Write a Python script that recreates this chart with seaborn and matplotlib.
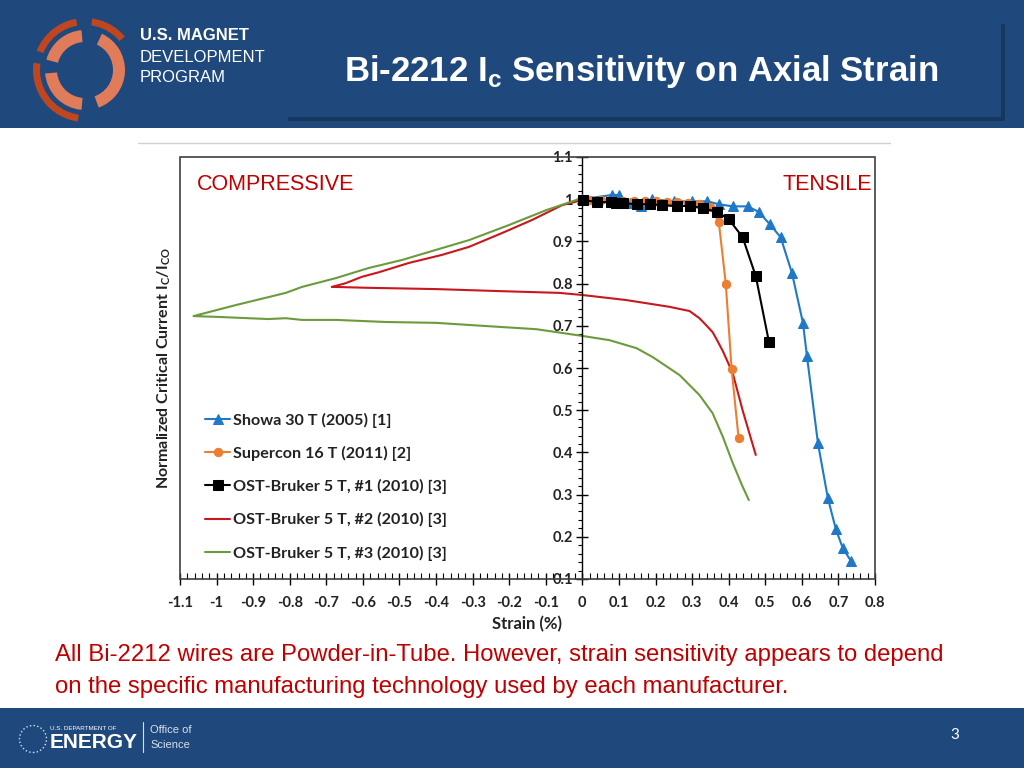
import numpy as np
import pandas as pd
import matplotlib
matplotlib.use("Agg")
import matplotlib.pyplot as plt
import seaborn as sns
from matplotlib.patches import Rectangle, Wedge
from matplotlib.ticker import MultipleLocator, FixedLocator

# ---------------- data ----------------
showa_x = [0, 0.08, 0.10, 0.13, 0.16, 0.19, 0.25, 0.30, 0.342, 0.373, 0.411, 0.452, 0.482,
           0.512, 0.542, 0.573, 0.603, 0.614, 0.644, 0.671, 0.693, 0.712, 0.734]
showa_y = [1.0, 1.01, 1.01, 0.99, 0.985, 1.0, 0.995, 0.995, 0.995, 0.988, 0.983, 0.983, 0.970,
           0.941, 0.910, 0.825, 0.707, 0.628, 0.422, 0.292, 0.218, 0.173, 0.143]

supercon_x = [0, 0.02, 0.05, 0.08, 0.11, 0.14, 0.17, 0.20, 0.23, 0.26, 0.29, 0.32, 0.35,
              0.373, 0.392, 0.408, 0.427]
supercon_y = [1.0, 0.998, 0.997, 0.996, 0.995, 0.995, 0.996, 0.995, 0.994, 0.993, 0.991, 0.988,
              0.982, 0.946, 0.80, 0.598, 0.434]

ost1_x = [0.003, 0.041, 0.077, 0.093, 0.11, 0.148, 0.184, 0.219, 0.258, 0.293, 0.329, 0.367,
          0.40, 0.438, 0.474, 0.510]
ost1_y = [0.998, 0.993, 0.993, 0.991, 0.991, 0.988, 0.988, 0.986, 0.984, 0.984, 0.979, 0.970,
          0.953, 0.910, 0.818, 0.662]

ost2_x = [0, -0.055, -0.137, -0.219, -0.31, -0.384, -0.474, -0.556, -0.603, -0.647, -0.685,
          -0.67, -0.584, -0.40, -0.219, -0.063, 0, 0.12, 0.238, 0.293, 0.32, 0.34, 0.356,
          0.367, 0.384, 0.411, 0.438, 0.474]
ost2_y = [0.998, 0.986, 0.951, 0.92, 0.887, 0.868, 0.849, 0.827, 0.816, 0.801, 0.792,
          0.792, 0.79, 0.787, 0.782, 0.778, 0.773, 0.761, 0.745, 0.735, 0.718, 0.70, 0.685,
          0.668, 0.640, 0.588, 0.50, 0.394]

ost3_x = [0, -0.099, -0.2, -0.31, -0.4, -0.493, -0.584, -0.674, -0.767, -0.811, -0.858, -0.948,
          -1.063, -0.995, -0.858, -0.811, -0.767, -0.674, -0.537, -0.40, -0.31, -0.219, -0.126,
          -0.055, 0, 0.074, 0.148, 0.192, 0.266, 0.32, 0.356, 0.384, 0.411, 0.436, 0.455]
ost3_y = [1.003, 0.974, 0.939, 0.903, 0.88, 0.856, 0.837, 0.813, 0.792, 0.778, 0.768, 0.749,
          0.723, 0.721, 0.716, 0.718, 0.714, 0.714, 0.709, 0.707, 0.702, 0.697, 0.692,
          0.683, 0.676, 0.666, 0.647, 0.626, 0.583, 0.536, 0.493, 0.437, 0.375, 0.323, 0.287]

labels = ["Showa 30 T (2005) [1]", "Supercon 16 T (2011) [2]", "OST-Bruker 5 T, #1 (2010) [3]",
          "OST-Bruker 5 T, #2 (2010) [3]", "OST-Bruker 5 T, #3 (2010) [3]"]

x_ticks = [-1.1, -1.0, -0.9, -0.8, -0.7, -0.6, -0.5, -0.4, -0.3, -0.2, -0.1, 0, 0.1, 0.2, 0.3,
           0.4, 0.5, 0.6, 0.7, 0.8]
x_ticklabels = ["-1.1", "-1", "-0.9", "-0.8", "-0.7", "-0.6", "-0.5", "-0.4", "-0.3", "-0.2",
                "-0.1", "0", "0.1", "0.2", "0.3", "0.4", "0.5", "0.6", "0.7", "0.8"]
y_ticks = [0.1, 0.2, 0.3, 0.4, 0.5, 0.6, 0.7, 0.8, 0.9, 1.0, 1.1]
y_ticklabels = ["0.1", "0.2", "0.3", "0.4", "0.5", "0.6", "0.7", "0.8", "0.9", "1", "1.1"]

# ---------------- style ----------------
sns.set_theme(style="white")
plt.rcParams['font.family'] = ['Lato', 'DejaVu Sans']
plt.rcParams['mathtext.fontset'] = 'custom'

W, H = 1024, 768
fig = plt.figure(figsize=(W / 100, H / 100), dpi=100)
fig.patch.set_facecolor("white")

def fx(px):
    return px / W

def fy(py):
    return 1 - py / H

NAVY = "#1f497d"
RED = "#c00000"
narrow = ['Liberation Sans', 'DejaVu Sans']

# header band
fig.patches.append(Rectangle((0, fy(128)), 1, 128 / H, transform=fig.transFigure,
                             facecolor=NAVY, edgecolor="none", zorder=-2))
# title box shadow
fig.patches.append(Rectangle((fx(288), fy(121)), fx(1005) - fx(288), 4 / H,
                             transform=fig.transFigure, facecolor="#16375e", edgecolor="none", zorder=-1))
fig.patches.append(Rectangle((fx(1001), fy(121)), 4 / W, (121 - 24) / H,
                             transform=fig.transFigure, facecolor="#16375e", edgecolor="none", zorder=-1))
# footer band
fig.patches.append(Rectangle((0, 0), 1, (768 - 708) / H, transform=fig.transFigure,
                             facecolor=NAVY, edgecolor="none", zorder=-2))
# thin separator line
fig.add_artist(plt.Line2D([fx(138), fx(890)], [fy(143), fy(143)], color="#d0d0d0", lw=1))

# logo arcs
lax = fig.add_axes([fx(30), fy(125), 110 / W, 110 / H])
lax.set_zorder(5)
lax.set_xlim(-55, 55); lax.set_ylim(-55, 55); lax.set_aspect('equal'); lax.axis('off')
for t1, t2 in [(100, 158), (172, 262), (40, 82)]:
    lax.add_patch(Wedge((0, 0), 52, t1, t2, width=7, facecolor="#c0461f", edgecolor="none"))
for t1, t2 in [(95, 165), (185, 265), (-70, 65)]:
    lax.add_patch(Wedge((0, 0), 40, t1, t2, width=12, facecolor="#e07c5a", edgecolor="none"))

fig.text(fx(140), fy(36), "U.S. MAGNET", color="white", fontsize=12, fontweight="bold",
         family=narrow, va="center")
fig.text(fx(140), fy(57), "DEVELOPMENT", color="white", fontsize=12, family=narrow, va="center")
fig.text(fx(140), fy(78), "PROGRAM", color="white", fontsize=12, family=narrow, va="center")

fig.text(fx(641), fy(72), r"Bi-2212 I$_\mathregular{c}$ Sensitivity on Axial Strain", color="white",
         fontsize=25, fontweight="bold", family=narrow, ha="center", va="center")

# footer text
fig.text(fx(50), fy(742), "ENERGY", color="white", fontsize=15, fontweight="bold",
         family=narrow, va="center")
fig.text(fx(50), fy(728), "U.S. DEPARTMENT OF", color="white", fontsize=4.5, family=narrow, va="center")
fig.text(fx(150), fy(730), "Office of", color="#d8e0ea", fontsize=8, family=narrow, va="center")
fig.text(fx(150), fy(745), "Science", color="#d8e0ea", fontsize=8, family=narrow, va="center")
fig.add_artist(plt.Line2D([fx(143), fx(143)], [fy(722), fy(752)], color="#d8e0ea", lw=0.8))
lax2 = fig.add_axes([fx(18), fy(754), 30 / W, 30 / H])
lax2.set_zorder(5)
lax2.set_xlim(-1, 1); lax2.set_ylim(-1, 1); lax2.set_aspect('equal'); lax2.axis('off')
lax2.add_patch(plt.Circle((0, 0), 0.9, fill=False, edgecolor="#d8e0ea", lw=1, ls=":"))
fig.text(fx(955), fy(735), "3", color="white", fontsize=11, ha="center", va="center")

# body text
fig.text(fx(55), fy(655), "All Bi-2212 wires are Powder-in-Tube. However, strain sensitivity appears to depend",
         color=RED, fontsize=17.2, family=narrow, va="center")
fig.text(fx(55), fy(687), "on the specific manufacturing technology used by each manufacturer.",
         color=RED, fontsize=17.2, family=narrow, va="center")

# ---------------- chart ----------------
ax = fig.add_axes([fx(180), fy(579), fx(875) - fx(180), (579 - 157) / H])
ax.set_facecolor("white")

series = [
    (showa_x, showa_y, labels[0], "#1f78c8", "^", 7),
    (supercon_x, supercon_y, labels[1], "#ed7d31", "o", 6),
    (ost1_x, ost1_y, labels[2], "black", "s", 6.5),
]
for xs, ys, lab, col, mk, ms in series:
    df = pd.DataFrame({"x": xs, "y": ys})
    sns.lineplot(data=df, x="x", y="y", ax=ax, sort=False, estimator=None, color=col,
                 marker=mk, markersize=ms, markeredgecolor=col, linewidth=1.5, label=lab, zorder=3)
for xs, ys, lab, col in [(ost2_x, ost2_y, labels[3], "#c8171d"), (ost3_x, ost3_y, labels[4], "#6c9a3c")]:
    df = pd.DataFrame({"x": xs, "y": ys})
    sns.lineplot(data=df, x="x", y="y", ax=ax, sort=False, estimator=None, color=col,
                 linewidth=1.5, label=lab, zorder=2)

ax.set_xlim(-1.1, 0.8)
ax.set_ylim(0.1, 1.1)

for s in ["top", "right", "bottom"]:
    ax.spines[s].set_visible(False)
ax.spines["left"].set_position(("data", 0))
ax.spines["left"].set_color("black")
ax.spines["left"].set_linewidth(1)
ax.add_patch(Rectangle((0, 0), 1, 1, transform=ax.transAxes, fill=False,
                       edgecolor="#404040", lw=1.2, clip_on=False, zorder=5))

ax.xaxis.set_major_locator(FixedLocator(x_ticks))
ax.set_xticklabels(x_ticklabels)
ax.xaxis.set_minor_locator(MultipleLocator(0.02))
ax.yaxis.set_major_locator(FixedLocator(y_ticks))
ax.set_yticklabels(y_ticklabels)
ax.yaxis.set_minor_locator(MultipleLocator(0.02))

ax.tick_params(axis="x", which="major", direction="inout", length=8, width=1, color="black",
               labelsize=10.5, pad=8, bottom=True)
ax.tick_params(axis="x", which="minor", direction="in", length=4, width=0.8, color="black", bottom=True)
ax.tick_params(axis="y", which="major", direction="inout", length=8, width=1, color="black",
               labelsize=10.5, pad=3, left=True)
ax.tick_params(axis="y", which="minor", direction="out", length=3, width=0.8, color="black", left=True)
for lbl in ax.get_xticklabels() + ax.get_yticklabels():
    lbl.set_fontweight("bold")
    lbl.set_color("#222222")

ax.set_xlabel("Strain (%)", fontsize=12, fontweight="bold", color="#222222")
ax.xaxis.set_label_coords((527 - 180) / (875 - 180), -(616 - 579) / (579 - 157))
ax.set_ylabel(r"Normalized Critical Current I$_\mathregular{C}$/I$_\mathregular{CO}$",
              fontsize=11.5, fontweight="bold", color="#222222")
ax.yaxis.set_label_coords(-(180 - 173) / (875 - 180), 0.5)

ax.text(0.024, 0.935, "COMPRESSIVE", transform=ax.transAxes, color=RED, fontsize=15.5,
        family=narrow, ha="left", va="center")
ax.text(0.995, 0.935, "TENSILE", transform=ax.transAxes, color=RED, fontsize=15.5,
        family=narrow, ha="right", va="center")

leg = ax.legend(loc="upper left", bbox_to_anchor=((199 - 180) / (875 - 180), (579 - 406) / (579 - 157)),
                frameon=False, prop={"weight": "bold", "size": 11.6}, handlelength=1.5,
                handletextpad=0.2, labelspacing=1.13, borderaxespad=0)
for t in leg.get_texts():
    t.set_color("#222222")

fig.savefig("out.png", dpi=100)
